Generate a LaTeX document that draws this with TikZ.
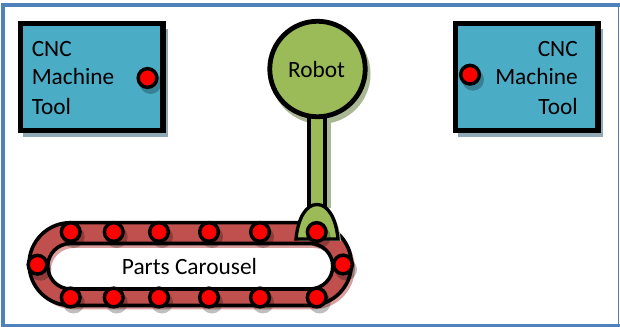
\documentclass[tikz,border=0pt]{standalone}
\usepackage{fontspec}
\setmainfont{Carlito}
\definecolor{framec}{HTML}{4F81BD}
\definecolor{boxc}{HTML}{4BACC6}
\definecolor{boxs}{HTML}{8FAAB5}
\definecolor{robc}{HTML}{9BBB59}
\definecolor{robs}{HTML}{A9B794}
\definecolor{carc}{HTML}{C0504D}
\tikzset{
 lbl/.style={font=\fontsize{17.5}{20}\selectfont,inner sep=0pt,text=black},
 dotn/.style={circle,draw=black,fill=red,line width=2.6pt,minimum size=14pt,inner sep=0pt},
 shad/.style={fill=black,opacity=0.25},
 machine/.style={draw=black,fill=boxc,line width=3.9pt,minimum width=106.9pt,minimum height=80.25pt,inner sep=0pt},
}
\newcommand{\dotat}[3]{\fill[shad] (#2+3,#3+5) circle (11);\node[dotn] (#1) at (#2,#3) {};}
\begin{document}
\begin{tikzpicture}[x=0.75pt,y=-0.75pt]
\useasboundingbox (0,0) rectangle (620,327);
\fill[white] (0,0) rectangle (620,327);
% frame
\fill[framec] (1,3.5) rectangle (620,7);
\fill[framec] (1,3.5) rectangle (4.5,327);
\fill[framec] (1,323.5) rectangle (620,327);
\fill[framec] (618,3.5) rectangle (619.2,327);
% machines
\fill[boxs] (23,29) rectangle (168,137);
\node[machine] (ml) at (91.75,77) {};
\fill[boxs] (458,29) rectangle (603,137);
\node[machine] (mr) at (526.75,77) {};
\node[lbl,anchor=base west] (t1) at (31.5,56.5) {CNC};
\node[lbl,anchor=base west] (t2) at (31.5,85) {Machine};
\node[lbl,anchor=base west] (t3) at (31.5,114.5) {Tool};
\node[lbl,anchor=base east] (t4) at (578,56.5) {CNC};
\node[lbl,anchor=base east] (t5) at (578,85) {Machine};
\node[lbl,anchor=base east] (t6) at (578,114.5) {Tool};
\dotat{dl}{147.5}{78}
\dotat{dr}{470}{74.7}
% carousel
\fill[carc!55!white,even odd rule] (73.5,226.5) -- (313.5,226.5) arc (-90:90:41.4) -- (73.5,309.3) arc (90:270:41.4) -- cycle
  (73.5,248) -- (313.5,248) arc (-90:90:22.75) -- (73.5,293.5) arc (90:270:22.75) -- cycle;
\draw[black,line width=2.7pt,fill=carc,even odd rule] (70.5,222.7) -- (310,222.7) arc (-90:90:41.4) -- (70.5,305.5) arc (90:270:41.4) -- cycle
  (70.5,243.5) -- (310,243.5) arc (-90:90:22.75) -- (70.5,289) arc (90:270:22.75) -- cycle;
\node[lbl] (pc) at (189.5,266.5) {Parts Carousel};
% robot
\fill[robs] (320.5,74) circle (50);
\fill[robs] (310,120) rectangle (331,208);
\node[draw=black,fill=robc,line width=3pt,minimum width=11.8pt,minimum height=67.5pt,inner sep=0pt] (arm) at (317.2,161) {};
\node[circle,draw=black,fill=robc,line width=3.6pt,minimum size=71.6pt,inner sep=0pt] (rob) at (317.5,69) {};
\node[lbl] (robt) at (316.5,69.5) {Robot};
% gripper
\fill[robs] (299,241) .. controls (301,221) and (309,207) .. (320,207) .. controls (331,207) and (339,221) .. (341,241) -- cycle;
\path[draw=black,fill=robc,line width=2.5pt] (296,239) .. controls (298,218) and (306,204.5) .. (317,204.5) .. controls (328,204.5) and (336,218) .. (338,239) -- cycle;
% dots
\foreach \n/\x in {a/70.7,b/113.7,c/159,d/209,e/260,f/316.7}{
 \dotat{top\n}{\x}{232}
 \dotat{bot\n}{\x}{297.5}
}
\dotat{lft}{37.5}{264.7}
\dotat{rgt}{343}{264.5}
\end{tikzpicture}
\end{document}
